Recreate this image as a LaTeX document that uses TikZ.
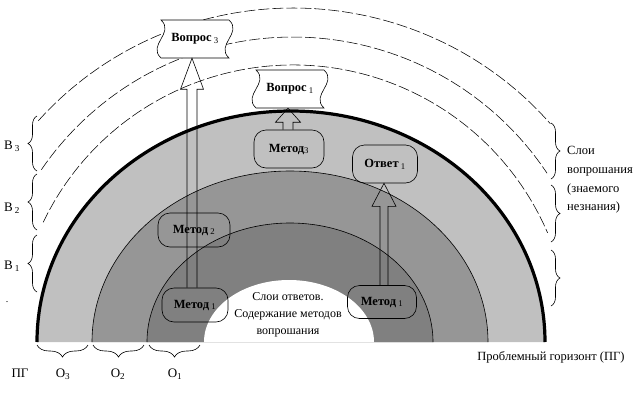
\documentclass[tikz,border=0pt]{standalone}
\usepackage{fontspec}
\setmainfont{Liberation Serif}
\usetikzlibrary{calc,decorations.pathreplacing}
\definecolor{ringA}{HTML}{C0C0C0}
\definecolor{ringB}{HTML}{969696}
\definecolor{ringC}{HTML}{808080}
\newcommand{\hollowarrow}[5]{%
  \draw[line width=0.6pt] let \p1=(#1), \p2=(#2) in
   (\x2-#3,\y1) -- (\x2-#3,\y2-#5) -- (\x2-#4,\y2-#5) -- (\x2,\y2) --
   (\x2+#4,\y2-#5) -- (\x2+#3,\y2-#5) -- (\x2+#3,\y1);}
\newcommand{\wavebox}[4]{%
  \filldraw[fill=white,draw=black,line width=0.6pt]
   (#2-34,#3-19) -- (#2+34,#3-19)
   .. controls (#2+48,#3-6) and (#2+20,#3+6) .. (#2+34,#3+19)
   -- (#2-34,#3+19)
   .. controls (#2-48,#3+6) and (#2-20,#3-6) .. (#2-34,#3-19) -- cycle;
  \node[qbox] (#1) at (#2,#3) {#4};}
\begin{document}
\begin{tikzpicture}[x=1pt,y=-1pt,
  dasharc/.style={line width=0.55pt,dash pattern=on 11pt off 3pt},
  mbox/.style={draw,line width=0.6pt,rounded corners=12pt,inner sep=0pt,
    font=\fontsize{12.5}{14}\selectfont\bfseries},
  qbox/.style={inner sep=0pt,minimum width=68pt,minimum height=38pt,
    font=\fontsize{12.5}{14}\selectfont\bfseries},
  vbrace/.style={decorate,decoration={brace,amplitude=9pt},line width=0.6pt},
  hbrace/.style={decorate,decoration={brace,amplitude=12pt},line width=0.6pt},
  lab/.style={inner sep=0pt,font=\fontsize{13}{15}\selectfont},
  txt/.style={inner sep=0pt,font=\fontsize{12.5}{18.7}\selectfont,align=left}]
\useasboundingbox (0,0) rectangle (641,408);
% rings
\fill[ringA] (37,342) arc[start angle=180,end angle=360,x radius=254,y radius=231] -- cycle;
\fill[ringB] (92,342) arc[start angle=180,end angle=360,x radius=198,y radius=171] -- cycle;
\fill[ringC] (147,342) arc[start angle=180,end angle=360,x radius=143,y radius=119] -- cycle;
\fill[white] (204,342) arc[start angle=180,end angle=360,x radius=85,y radius=62] -- cycle;
\draw[line width=0.6pt] (92,342) arc[start angle=180,end angle=360,x radius=198,y radius=171];
\draw[line width=0.6pt] (147,342) arc[start angle=180,end angle=360,x radius=143,y radius=119];
\draw[line width=3.2pt] (37,342) arc[start angle=180,end angle=360,x radius=254,y radius=231];
% dashed arcs
\coordinate (dc) at (293,342);
\draw[dasharc] (dc) ++(221.5:340 and 334) arc[start angle=221.5,end angle=319.2,x radius=340,y radius=334];
\draw[dasharc] (dc) ++(214.4:305 and 305) arc[start angle=214.4,end angle=326.4,x radius=305,y radius=305];
\draw[dasharc] (dc) ++(205.6:277 and 277) arc[start angle=205.6,end angle=336.8,x radius=277,y radius=277];
% question boxes
\wavebox{v3}{195}{39}{Вопрос\,{\mdseries\textsubscript{3}}}
\wavebox{v1}{290}{89}{Вопрос\,{\mdseries\textsubscript{1}}}
% method nodes
\node[mbox,minimum width=66pt,minimum height=34pt] (m1) at (195,305) {Метод\,{\mdseries\textsubscript{1}}};
\node[mbox,minimum width=72pt,minimum height=34pt] (m2) at (194,230) {Метод\,{\mdseries\textsubscript{2}}};
\node[mbox,minimum width=69pt,minimum height=33pt] (m1r) at (382,302) {Метод\,{\mdseries\textsubscript{1}}};
\node[mbox,minimum width=70pt,minimum height=38pt] (m3) at (289,149) {Метод{\mdseries\textsubscript{3}}};
\node[mbox,minimum width=65pt,minimum height=38pt] (o1) at (385,164) {Ответ\,{\mdseries\textsubscript{1}}};
% arrows
\hollowarrow{m1.north}{$(v3.south)+(-3,0)$}{5pt}{11.5pt}{31pt}
\hollowarrow{m1r.north}{$(o1.south)+(-1,0)$}{4pt}{12pt}{23pt}
\hollowarrow{m3.north}{$(v1.south)+(-2,0)$}{5pt}{12.5pt}{14pt}
% left braces
\draw[vbrace] (37,171) -- (37,116);
\draw[vbrace] (37,230) -- (37,174);
\draw[vbrace] (37,292) -- (37,235);
\node[lab] (b3) at (12,146) {В\,\textsubscript{3}};
\node[lab] (b2) at (12,208) {В\,\textsubscript{2}};
\node[lab] (b1) at (12,266) {В\,\textsubscript{1}};
\node[inner sep=0pt,font=\fontsize{10}{12}\selectfont] (dot) at (7,302) {.};
% right braces
\draw[vbrace] (551,123) -- (551,179);
\draw[vbrace] (551,185) -- (551,242);
\draw[vbrace] (551,250) -- (551,306);
\node[txt,anchor=west] (rt) at (567,180) {Слои\\вопрошания\\(знаемого\\незнания)};
% bottom braces
\draw[hbrace] (88,345) -- (37,345);
\draw[hbrace] (144,345) -- (93,345);
\draw[hbrace] (200,345) -- (149,345);
\node[lab] (pgl) at (20,373) {ПГ};
\node[lab] (o3l) at (63,374) {О\textsubscript{3}};
\node[lab] (o2l) at (118,374) {О\textsubscript{2}};
\node[lab] (o1l) at (175,374) {О\textsubscript{1}};
\node[txt] (pg) at (551,357) {Проблемный горизонт (ПГ)};
\node[txt,align=center,font=\fontsize{12}{17}\selectfont] (ct) at (288,315) {Слои ответов.\\Содержание методов\\вопрошания};
\end{tikzpicture}
\end{document}
